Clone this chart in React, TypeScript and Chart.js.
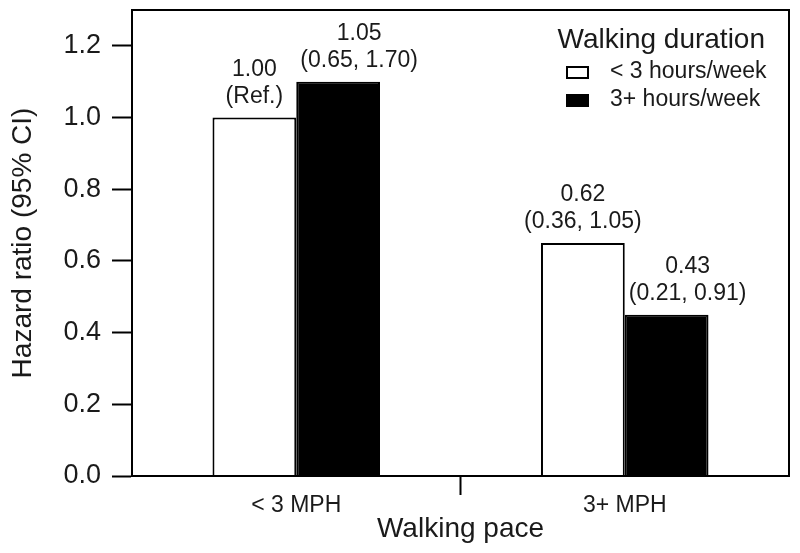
import { useEffect, useRef } from 'react';
import { Chart, registerables } from 'chart.js';

Chart.register(...registerables);

const categories = ['< 3 MPH', '3+ MPH'];
const seriesNames = ['< 3 hours/week', '3+ hours/week'];
const shortDuration = [1.0, 0.65];
const longDuration = [1.1, 0.45];
const shortLabels = [['1.00', '(Ref.)'], ['0.62', '(0.36, 1.05)']];
const longLabels = [['1.05', '(0.65, 1.70)'], ['0.43', '(0.21, 0.91)']];
const yTicks = [0, 0.2, 0.4, 0.6, 0.8, 1.0, 1.2];
const yMax = 1.3;
const legendTitle = 'Walking duration';
const xTitle = 'Walking pace';
const yTitle = 'Hazard ratio (95% CI)';

const FONT = '"Liberation Sans", Arial, Helvetica, sans-serif';
const INK = '#1a1a1a';

const framePlugin = {
  id: 'frame',
  afterDraw(chart: any) {
    const { ctx, chartArea: a, scales } = chart;
    ctx.save();
    ctx.strokeStyle = '#000';
    ctx.lineWidth = 2;
    ctx.strokeRect(a.left, a.top, a.right - a.left, a.bottom - a.top);
    // middle tick between categories
    const xs = scales.x;
    const mid = (xs.getPixelForValue(0) + xs.getPixelForValue(1)) / 2;
    ctx.beginPath();
    ctx.moveTo(mid, a.bottom);
    ctx.lineTo(mid, a.bottom + 19);
    ctx.stroke();
    ctx.restore();
  },
};

const barLabelPlugin = {
  id: 'barLabels',
  afterDatasetsDraw(chart: any) {
    const { ctx } = chart;
    const sets = [shortLabels, longLabels];
    const dxs = [0, 21];
    ctx.save();
    ctx.fillStyle = INK;
    ctx.font = `23px ${FONT}`;
    ctx.textAlign = 'center';
    ctx.textBaseline = 'middle';
    sets.forEach((labels, di) => {
      const meta = chart.getDatasetMeta(di);
      meta.data.forEach((bar: any, i: number) => {
        const lines = labels[i];
        const x = bar.x + dxs[di];
        ctx.fillText(lines[1], x, bar.y - 21);
        ctx.fillText(lines[0], x, bar.y - 48);
      });
    });
    ctx.restore();
  },
};

const legendPlugin = {
  id: 'customLegend',
  afterDraw(chart: any) {
    const { ctx, chartArea: a } = chart;
    const right = a.right - 24;
    ctx.save();
    ctx.fillStyle = INK;
    ctx.textBaseline = 'middle';
    ctx.textAlign = 'right';
    ctx.font = `28px ${FONT}`;
    ctx.fillText(legendTitle, right, a.top + 30);
    ctx.font = `23px ${FONT}`;
    ctx.textAlign = 'left';
    const fills = ['#ffffff', '#000000'];
    seriesNames.forEach((name, i) => {
      const cy = a.top + 62 + i * 28;
      ctx.fillStyle = fills[i];
      ctx.fillRect(a.left + 435, cy - 5, 21, 11);
      ctx.strokeStyle = '#000';
      ctx.lineWidth = 2;
      ctx.strokeRect(a.left + 435, cy - 5, 21, 11);
      ctx.fillStyle = INK;
      ctx.fillText(name, a.left + 478, cy);
    });
    ctx.restore();
  },
};

export default function App() {
  const ref = useRef<HTMLCanvasElement | null>(null);
  useEffect(() => {
    if (!ref.current) return;
    const chart = new Chart(ref.current, {
      type: 'bar',
      data: {
        labels: categories,
        datasets: [
          {
            label: seriesNames[0],
            data: shortDuration,
            backgroundColor: '#ffffff',
            borderColor: '#000000',
            borderWidth: 2,
            categoryPercentage: 0.51,
            barPercentage: 1.0,
          },
          {
            label: seriesNames[1],
            data: longDuration,
            backgroundColor: '#000000',
            borderColor: '#000000',
            borderWidth: 2,
            categoryPercentage: 0.51,
            barPercentage: 1.0,
          },
        ],
      },
      options: {
        responsive: false,
        animation: false,
        devicePixelRatio: 1,
        layout: { padding: { top: 10, right: 11, left: 0, bottom: 0 } },
        plugins: {
          legend: { display: false },
          tooltip: { enabled: false },
        },
        scales: {
          x: {
            afterFit: (s: any) => {
              s.height = 77;
              s.paddingLeft = 0;
              s.paddingRight = 0;
            },
            grid: { display: false, drawTicks: false },
            border: { display: true, color: '#000', width: 2 },
            ticks: {
              color: INK,
              font: { family: FONT, size: 23 },
              padding: 16,
            },
            title: {
              display: true,
              text: xTitle,
              color: INK,
              font: { family: FONT, size: 28 },
              padding: { top: 0, bottom: 7 },
            },
          },
          y: {
            min: 0,
            max: yMax,
            afterFit: (s: any) => {
              s.width = 132;
              s.paddingTop = 0;
              s.paddingBottom = 0;
            },
            afterBuildTicks: (s: any) => {
              s.ticks = yTicks.map((v) => ({ value: v }));
            },
            grid: {
              display: true,
              drawOnChartArea: false,
              drawTicks: true,
              tickLength: 20,
              tickWidth: 2,
              tickColor: '#000',
            },
            border: { display: true, color: '#000', width: 2 },
            ticks: {
              color: INK,
              font: { family: FONT, size: 27 },
              padding: 11,
              callback: (v: any) => Number(v).toFixed(1),
            },
            title: {
              display: true,
              text: yTitle,
              color: INK,
              font: { family: FONT, size: 28 },
              padding: { top: 6, bottom: 0 },
            },
          },
        },
      },
      plugins: [framePlugin, barLabelPlugin, legendPlugin],
    });
    return () => chart.destroy();
  }, []);
  return (
    <canvas
      ref={ref}
      width={800}
      height={553}
      style={{ position: 'fixed', left: 0, top: 0, display: 'block' }}
    />
  );
}
